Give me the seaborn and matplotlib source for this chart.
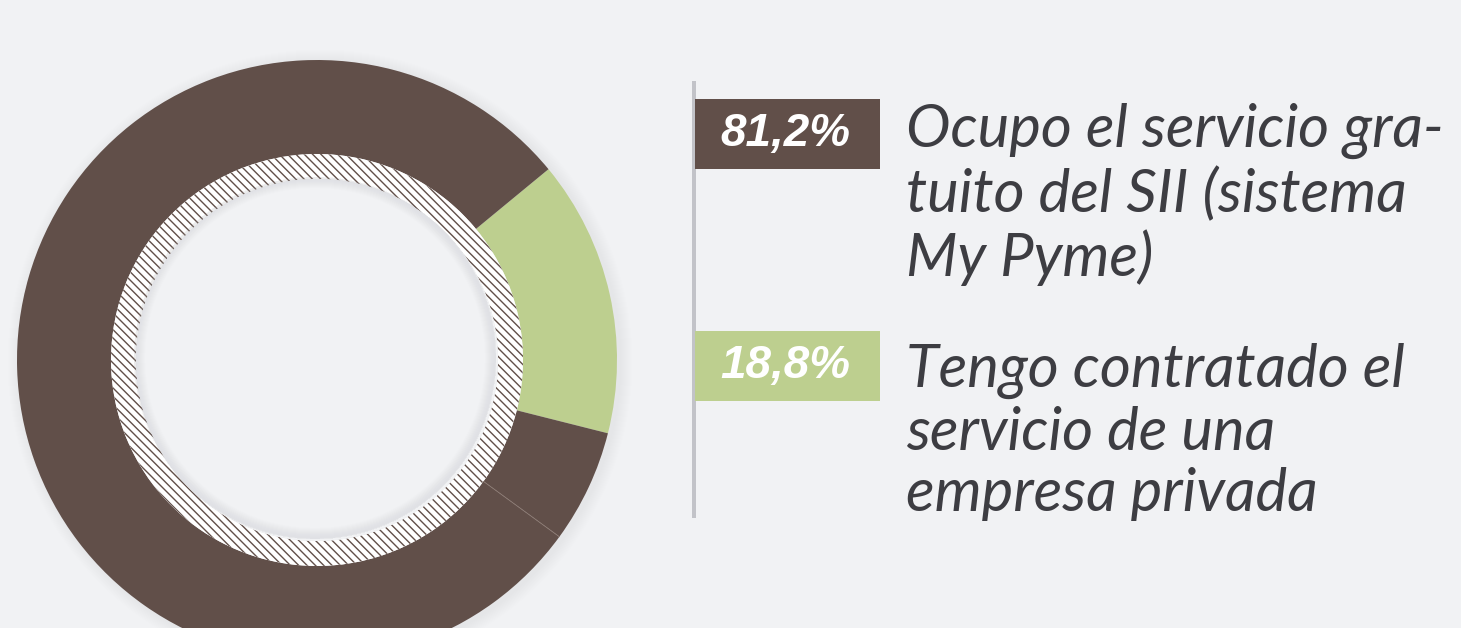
import numpy as np
import matplotlib.pyplot as plt
import seaborn as sns
from matplotlib.patches import Wedge, Circle, Rectangle

# === Data ===
categories = ["Ocupo el servicio gra-\ntuito del SII (sistema\nMy Pyme)",
              "Tengo contratado el\nservicio de una\nempresa privada"]
shares = [81.2, 18.8]
# ring pieces as drawn in the picture (green, dark piece, dark rest)
arc_shares = [14.9, 6.1, 79.0]
arc_colors = ["green", "dark", "dark"]

# === Style ===
sns.set_theme(style="white")
BG = "#f1f2f4"
DARK = "#614f49"
GREEN = "#bdcf8f"
TEXT = "#3d3d42"
palette = {"dark": DARK, "green": GREEN}
plt.rcParams["hatch.linewidth"] = 1.0
plt.rcParams["hatch.color"] = DARK

W, H = 1461, 628
fig = plt.figure(figsize=(W / 100, H / 100), dpi=100, facecolor=BG)
ax = fig.add_axes([0, 0, 1, 1])
ax.set_facecolor(BG)

cx, cy = 317, H - 360
r_out, r_in, r_hole = 300, 206, 181

# soft outer shadow
for k in range(12):
    ax.add_patch(Circle((cx + 3, cy - 2), r_out + 12 - k, color="#c4c5ca",
                        alpha=0.02, lw=0, zorder=0))

wedges, _ = ax.pie(arc_shares, colors=[palette[c] for c in arc_colors],
                   startangle=39.5, counterclock=False, radius=r_out,
                   center=(cx, cy),
                   wedgeprops=dict(width=r_out - r_in, edgecolor="none",
                                   linewidth=0))
for w in wedges:
    w.set_zorder(2)

# faint seam between the two dark pieces
seam = np.deg2rad(39.5 - 360 * sum(arc_shares[:2]) / sum(arc_shares))
ax.plot([cx + r_in * np.cos(seam), cx + r_out * np.cos(seam)],
        [cy + r_in * np.sin(seam), cy + r_out * np.sin(seam)],
        color="#8c7b74", lw=0.6, zorder=3)

# hatched inner ring
ax.add_patch(Wedge((cx, cy), r_in, 0, 360, width=r_in - r_hole,
                   facecolor="white", edgecolor=DARK, hatch="\\\\\\\\",
                   lw=0, zorder=2))
# hole with a soft inner shadow
ax.add_patch(Circle((cx, cy), r_hole, color=BG, lw=0, zorder=3))
for k in range(10):
    ax.add_patch(Wedge((cx - 2, cy + 2), r_hole, 0, 360, width=11 - k,
                       color="#b9bac0", alpha=0.025, lw=0, zorder=4))

# === Legend ===
ax.add_patch(Rectangle((692, H - 518), 4, 437, color="#c2c3c8", lw=0, zorder=2))
box_tops = [99, 331]
desc_base = [150, 385]
line_gap = 63
for i, (lab, v) in enumerate(zip(categories, shares)):
    col = DARK if i == 0 else GREEN
    top = box_tops[i]
    ax.add_patch(Rectangle((695, H - top - 70), 185, 70, color=col, lw=0,
                           zorder=3))
    ax.text(785, H - top - 35, f"{v:.1f}%".replace(".", ","), color="white",
            fontsize=33, fontweight="bold", fontstyle="italic",
            family=["Liberation Sans", "DejaVu Sans"], ha="center",
            va="center", zorder=4)
    n_lines = lab.count("\n")
    # baseline of a multi-line text is that of its last line
    ax.text(906, H - desc_base[i] - n_lines * line_gap, lab, color=TEXT,
            fontsize=43, fontweight="normal", fontstyle="italic",
            family=["Lato", "DejaVu Sans"], ha="left", va="baseline",
            linespacing=1.155, zorder=4)

ax.set_xlim(0, W)
ax.set_ylim(0, H)
ax.set_aspect("equal")
ax.axis("off")

fig.savefig("out.png", dpi=100, facecolor=BG)
